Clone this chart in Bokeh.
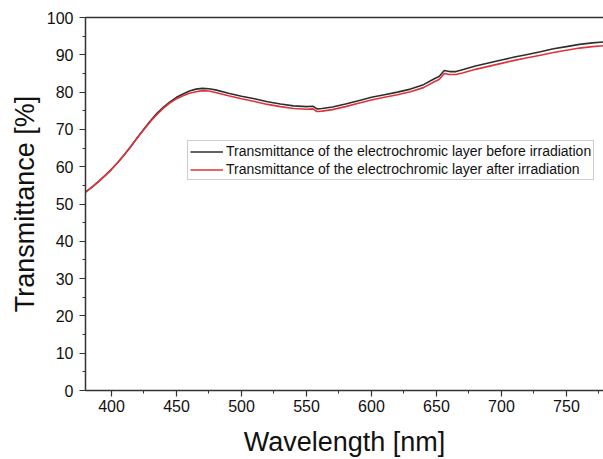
from bokeh.plotting import figure
from bokeh.models import (Range1d, SingleIntervalTicker, LinearAxis, FixedTicker,
                          Legend, LegendItem)
from bokeh.embed import file_html
from bokeh.resources import INLINE

# Wavelength [nm]
wavelength = [380, 385, 390, 395, 400, 405, 410, 415, 420, 425, 430, 435, 440,
              445, 450, 455, 460, 465, 470, 475, 480, 490, 500,
              510, 520, 530, 540, 550, 555, 558, 562, 570, 580, 590, 600, 610,
              620, 630, 640, 648, 652, 656, 660, 665, 670, 680, 690, 700, 710,
              720, 730, 740, 750, 760, 770, 780]

# Transmittance before irradiation [%]
before = [53.2, 54.5, 56.0, 57.6, 59.3, 61.2, 63.3, 65.5, 67.8, 70.1, 72.3, 74.3,
          76.0, 77.4, 78.6, 79.5, 80.3, 80.8, 81.0, 80.9, 80.6, 79.7,
          78.9, 78.2, 77.4, 76.8, 76.3, 76.1, 76.2, 75.5, 75.6, 76.0, 76.8, 77.7,
          78.6, 79.3, 80.0, 80.8, 82.0, 83.5, 84.2, 85.8, 85.5, 85.5, 86.0, 87.0,
          87.8, 88.6, 89.4, 90.1, 90.8, 91.6, 92.2, 92.8, 93.2, 93.5]

# Transmittance after irradiation [%]
after = [53.2, 54.5, 56.0, 57.6, 59.3, 61.2, 63.3, 65.5, 67.8, 70.0, 72.1, 74.0,
         75.7, 77.1, 78.2, 79.0, 79.7, 80.1, 80.4, 80.3, 79.9, 79.0,
         78.2, 77.5, 76.7, 76.1, 75.6, 75.4, 75.5, 74.8, 74.9, 75.3, 76.1, 77.0,
         77.9, 78.6, 79.3, 80.1, 81.2, 82.7, 83.4, 85.0, 84.7, 84.7, 85.1, 86.1,
         86.9, 87.7, 88.5, 89.2, 89.9, 90.6, 91.2, 91.8, 92.2, 92.5]

label_before = "Transmittance of the electrochromic layer before irradiation"
label_after = "Transmittance of the electrochromic layer after irradiation"

FONT = "Liberation Sans"
AX = "#333333"

p = figure(width=603, height=459, output_backend="svg", toolbar_location=None,
           x_range=Range1d(380, 778.5), y_range=Range1d(0, 100),
           min_border_left=85, min_border_right=0, min_border_top=17,
           min_border_bottom=67, x_axis_location="below", y_axis_location="left")
p.outline_line_color = None
p.xgrid.visible = False
p.ygrid.visible = False

r1 = p.line(wavelength, before, line_color="#2e2e2e", line_width=1.6)
r2 = p.line(wavelength, after, line_color="#e0323a", line_width=1.6)

xa = p.xaxis[0]
xa.ticker = SingleIntervalTicker(interval=50, num_minor_ticks=2)
ya = p.yaxis[0]
ya.ticker = SingleIntervalTicker(interval=10, num_minor_ticks=2)

for ax in (xa, ya):
    ax.axis_line_color = AX
    ax.axis_line_width = 1.5
    ax.major_tick_line_color = AX
    ax.minor_tick_line_color = AX
    ax.major_tick_line_width = 1.2
    ax.minor_tick_line_width = 1.0
    ax.major_tick_in = 0
    ax.major_tick_out = 6
    ax.minor_tick_in = 0
    ax.minor_tick_out = 3
    ax.major_label_text_font = FONT
    ax.major_label_text_font_size = "16px"
    ax.major_label_text_color = "#111111"
    ax.axis_label_text_font = FONT
    ax.axis_label_text_font_size = "27px"
    ax.axis_label_text_font_style = "normal"
    ax.axis_label_text_color = "#111111"

xa.axis_label = "Wavelength [nm]"
xa.major_label_standoff = 3
xa.axis_label_standoff = 12
ya.axis_label = "Transmittance [%]"
ya.major_label_standoff = 6
ya.axis_label_standoff = 4

top = LinearAxis(ticker=FixedTicker(ticks=[]), axis_line_color=AX,
                 axis_line_width=1.5, major_tick_line_color=None,
                 minor_tick_line_color=None, major_label_text_font_size="0px")
p.add_layout(top, "above")

legend = Legend(items=[LegendItem(label=label_before, renderers=[r1]),
                       LegendItem(label=label_after, renderers=[r2])],
                location=(102, 210), orientation="vertical",
                label_text_font=FONT, label_text_font_size="14px",
                label_text_color="#111111",
                label_height=15, glyph_height=15, glyph_width=33,
                label_standoff=3, spacing=2, padding=2, margin=0,
                border_line_color="#9a9a9a", border_line_width=1,
                background_fill_alpha=0)
p.add_layout(legend, "center")

open("out.html", "w").write(file_html(p, INLINE))
